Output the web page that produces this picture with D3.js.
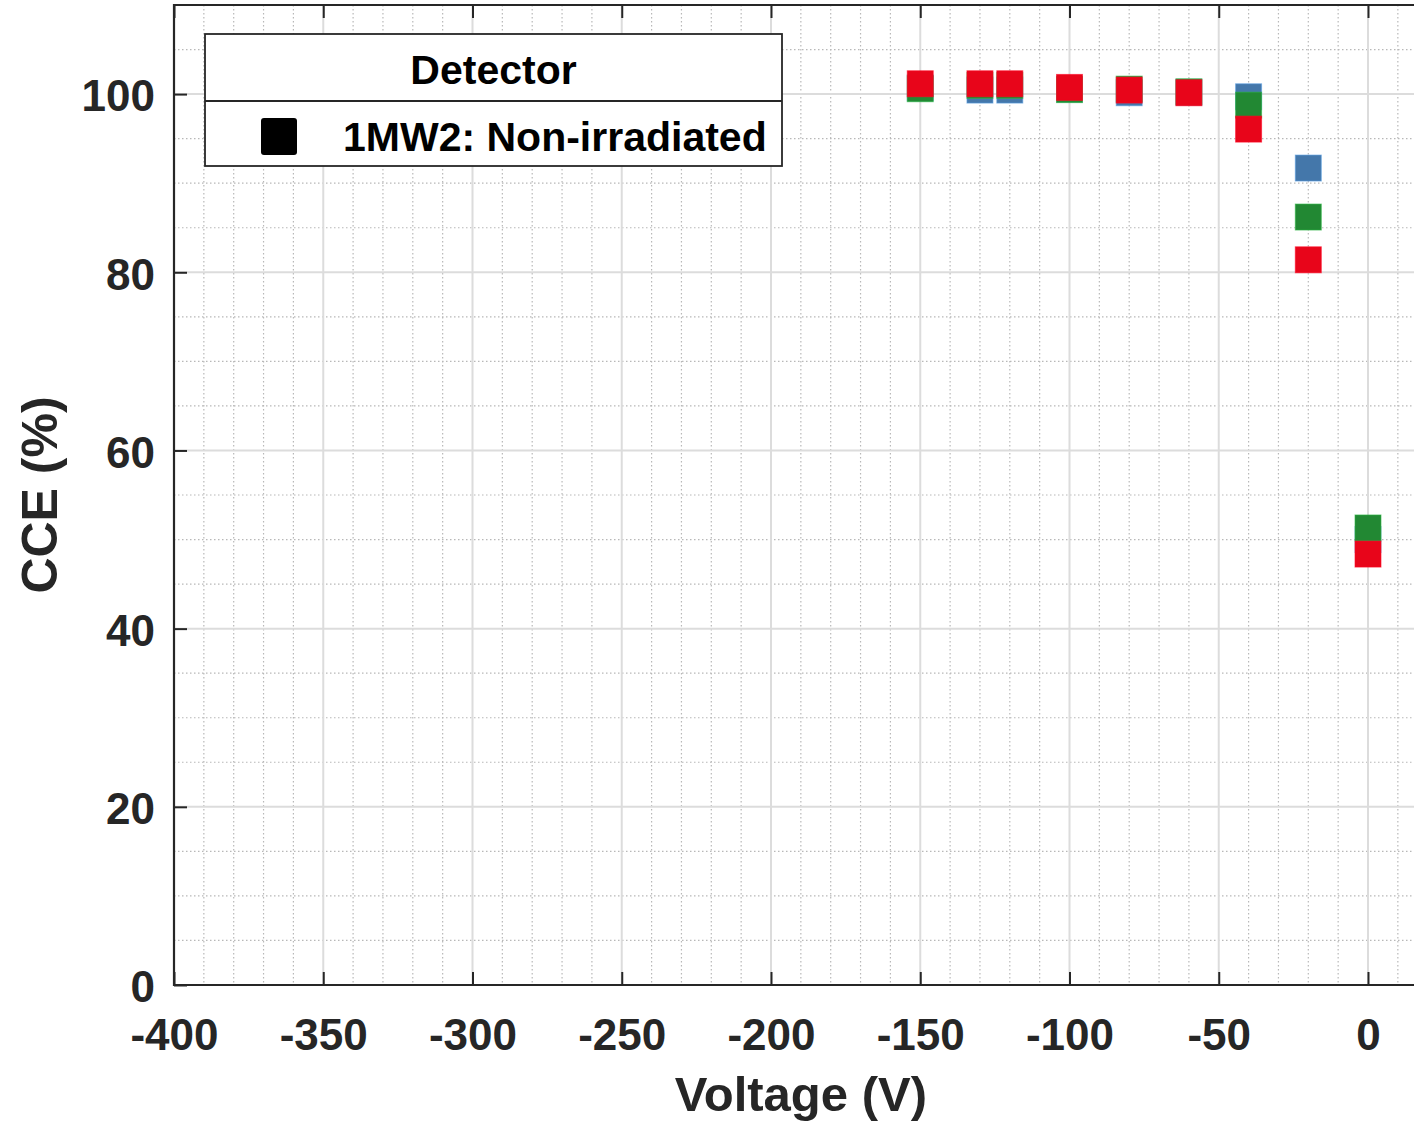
<!DOCTYPE html>
<html>
<head>
<meta charset="utf-8">
<script src="https://cdn.jsdelivr.net/npm/d3@7"></script>
<style>
  html, body { margin: 0; padding: 0; background: #fff; overflow: hidden; }
  svg { display: block; font-family: "Liberation Sans", Arial, Helvetica, sans-serif; }
</style>
</head>
<body>
<svg id="chart" width="1414" height="1124"></svg>
<script>
// ---- Data ----
const voltages = [-150, -130, -120, -100, -80, -60, -40, -20, 0];
const blueCCE  = [100.7, 100.45, 100.45, 100.55, 100.15, 100.2, 99.7, 91.7, 50.0];
const greenCCE = [100.6, 100.98, 100.98, 100.5, 100.56, 100.26, 98.76, 86.2, 51.3];
const redCCE   = [101.16, 101.16, 101.16, 100.75, 100.45, 100.15, 96.07, 81.4, 48.37];
const seriesNames  = ["blue", "green", "red"];
const seriesColors = ["#4477AA", "#228833", "#E8051A"];
const xTicks = [-400, -350, -300, -250, -200, -150, -100, -50, 0];
const yTicks = [0, 20, 40, 60, 80, 100];
const legendTitle = "Detector";
const legendLabel = "1MW2: Non-irradiated";
const xLabel = "Voltage (V)";
const yLabel = "CCE (%)";

(function () {
// ---- Layout ----
const svg = d3.select("#chart");
const pL = 174, pR = 1427.7, pT = 5, pB = 985;
const x = d3.scaleLinear().domain([-400, 20]).range([pL, pR]);
const y = d3.scaleLinear().domain([0, 110]).range([pB, pT]);
const axisColor = "#262626";

svg.append("defs").append("clipPath").attr("id", "plotclip")
  .append("rect").attr("x", pL).attr("y", pT).attr("width", pR - pL).attr("height", pB - pT);

const grid = svg.append("g").attr("clip-path", "url(#plotclip)");
// minor grid
const xMinor = d3.range(-400, 21, 10).filter(v => v % 50 !== 0);
const yMinor = d3.range(0, 111, 5).filter(v => v % 20 !== 0);
grid.selectAll("line.xminor").data(xMinor).join("line")
  .attr("x1", d => x(d)).attr("x2", d => x(d)).attr("y1", pT).attr("y2", pB)
  .attr("stroke", "#b8b8b8").attr("stroke-width", 1.2).attr("stroke-dasharray", "1.5,2.5");
grid.selectAll("line.yminor").data(yMinor).join("line")
  .attr("y1", d => y(d)).attr("y2", d => y(d)).attr("x1", pL).attr("x2", pR)
  .attr("stroke", "#b8b8b8").attr("stroke-width", 1.2).attr("stroke-dasharray", "1.5,2.5");
// major grid
grid.selectAll("line.xmajor").data(d3.range(-400, 21, 50)).join("line")
  .attr("x1", d => x(d)).attr("x2", d => x(d)).attr("y1", pT).attr("y2", pB)
  .attr("stroke", "#dcdcdc").attr("stroke-width", 2);
grid.selectAll("line.ymajor").data(d3.range(0, 111, 20)).join("line")
  .attr("y1", d => y(d)).attr("y2", d => y(d)).attr("x1", pL).attr("x2", pR)
  .attr("stroke", "#dcdcdc").attr("stroke-width", 2);

// ---- Markers ----
const allSeries = [blueCCE, greenCCE, redCCE];
const msize = 26;
const marks = svg.append("g").attr("clip-path", "url(#plotclip)");
allSeries.forEach((vals, si) => {
  marks.append("g").attr("class", seriesNames[si])
    .selectAll("rect").data(voltages.map((v, i) => [v, vals[i]])).join("rect")
    .attr("x", d => x(d[0]) - msize / 2)
    .attr("y", d => y(d[1]) - msize / 2)
    .attr("width", msize).attr("height", msize)
    .attr("fill", seriesColors[si])
    .attr("stroke", d3.color(seriesColors[si]).brighter(0.8))
    .attr("stroke-opacity", 0.6)
    .attr("stroke-width", 1);
});

// ---- Axes ----
const fmt = d => String(d);
const xAxis = svg.append("g").attr("transform", `translate(0,${pB})`)
  .call(d3.axisBottom(x).tickValues(xTicks).tickFormat(fmt).tickSize(-13).tickPadding(34));
const xAxisTop = svg.append("g").attr("transform", `translate(0,${pT})`)
  .call(d3.axisTop(x).tickValues(xTicks).tickFormat("").tickSize(-13));
const yAxis = svg.append("g").attr("transform", `translate(${pL},0)`)
  .call(d3.axisLeft(y).tickValues(yTicks).tickFormat(fmt).tickSize(-13).tickPadding(19));
[xAxis, xAxisTop, yAxis].forEach(g => {
  g.select(".domain").remove();
  g.selectAll(".tick line").attr("stroke", axisColor).attr("stroke-width", 2);
  g.selectAll(".tick text").attr("fill", axisColor)
    .style("font-size", "44px").style("font-weight", "bold")
    .style("font-family", "'Liberation Sans', Arial, sans-serif");
});
yAxis.selectAll(".tick text").attr("dy", "0.38em");

// frame lines
svg.append("line").attr("x1", pL).attr("x2", 1414).attr("y1", pB).attr("y2", pB)
  .attr("stroke", axisColor).attr("stroke-width", 2.2);
svg.append("line").attr("x1", pL).attr("x2", 1414).attr("y1", pT).attr("y2", pT)
  .attr("stroke", axisColor).attr("stroke-width", 2.2);
svg.append("line").attr("x1", pL).attr("x2", pL).attr("y1", pT - 1.1).attr("y2", pB + 1.1)
  .attr("stroke", axisColor).attr("stroke-width", 2.2);

// axis labels
svg.append("text").attr("x", (pL + pR) / 2).attr("y", 1111)
  .attr("text-anchor", "middle").attr("fill", axisColor)
  .style("font-size", "49px").style("font-weight", "bold").text(xLabel);
svg.append("text").attr("transform", `translate(57,${(pT + pB) / 2}) rotate(-90)`)
  .attr("text-anchor", "middle").attr("fill", axisColor)
  .style("font-size", "50px").style("font-weight", "bold").text(yLabel);

// ---- Legend ----
const lg = svg.append("g");
const lx0 = 205, lx1 = 782, ly0 = 34, ly1 = 166, lyd = 101;
lg.append("rect").attr("x", lx0).attr("y", ly0).attr("width", lx1 - lx0).attr("height", ly1 - ly0)
  .attr("fill", "#fff").attr("stroke", axisColor).attr("stroke-width", 1.8);
lg.append("line").attr("x1", lx0).attr("x2", lx1).attr("y1", lyd).attr("y2", lyd)
  .attr("stroke", axisColor).attr("stroke-width", 1.8);
lg.append("text").attr("x", (lx0 + lx1) / 2).attr("y", 84).attr("text-anchor", "middle")
  .attr("fill", "#000").style("font-size", "41px").style("font-weight", "bold").text(legendTitle);
lg.append("rect").attr("x", 261).attr("y", 118).attr("width", 36).attr("height", 37)
  .attr("rx", 3).attr("fill", "#000");
lg.append("text").attr("x", 343).attr("y", 151)
  .attr("fill", "#000").style("font-size", "41px").style("font-weight", "bold").text(legendLabel);
})();
</script>
</body>
</html>
